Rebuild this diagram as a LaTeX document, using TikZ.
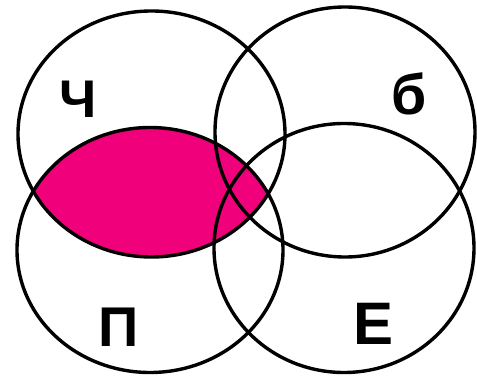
\documentclass[tikz,border=0pt]{standalone}
\usepackage{fontspec}
\setmainfont{Liberation Sans}
\definecolor{lenspink}{RGB}{240,0,122}
\begin{document}
\begin{tikzpicture}[x=1pt,y=-1pt,
  ring/.style={draw=black,line width=3.4pt},
  lbl/.style={inner sep=0pt,font=\bfseries}]
\useasboundingbox (0,0) rectangle (477,379);
\coordinate (tl) at (151.5,134);
\coordinate (bl) at (150,250);
\coordinate (tr) at (345,132);
\coordinate (br) at (344,248);
\begin{scope}
  \clip (tl) ellipse [x radius=133.5, y radius=123];
  \fill[lenspink] (bl) ellipse [x radius=133, y radius=122.5];
\end{scope}
\draw[ring] (tl) ellipse [x radius=133.5, y radius=123];
\draw[ring] (bl) ellipse [x radius=133, y radius=122.5];
\draw[ring] (tr) ellipse [x radius=130, y radius=125];
\draw[ring] (br) ellipse [x radius=130, y radius=124.5];
\node[lbl,font=\fontsize{53}{53}\bfseries\selectfont] (ch) at (78,99) {Ч};
\node[lbl,font=\fontsize{57}{57}\bfseries\selectfont] (be) at (409.5,93.5) {б};
\node[lbl,font=\fontsize{56}{56}\bfseries\selectfont] (pe) at (118.5,327.5) {П};
\node[lbl,font=\fontsize{60}{60}\bfseries\selectfont] (ye) at (374,323.5) {Е};
\end{tikzpicture}
\end{document}
